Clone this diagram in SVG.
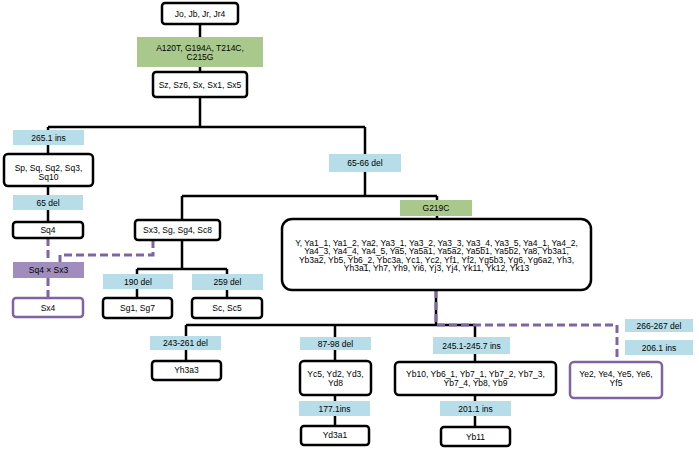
<svg xmlns="http://www.w3.org/2000/svg" width="699" height="450" viewBox="0 0 699 450">
<style>
text{font-family:"Liberation Sans",Arial,sans-serif;font-size:8.5px;text-anchor:middle;fill:#000}
.n{fill:#fff;stroke:#000;stroke-width:2.5}
.p{fill:#fff;stroke:#8064a2;stroke-width:2.5}
.b{fill:#b7dde8}
.g{fill:#a9c98c}
.v{fill:#a08dbd}
.c{fill:none;stroke:#000;stroke-width:2.5}
.d{fill:none;stroke:#8064a2;stroke-width:3;stroke-dasharray:8 4}
</style>
<rect width="699" height="450" fill="#fff"/>
<g id="connectors">
<path class="c" d="M200,24V37M200,67V72M200,97V127M48,127H365M48,127V130M48,145V154M48,186V195M48,210V222M365,127V154M365,172V196M182,196H437M182,196V220M182,240V269M437,196V200M437,216V219M137,269H227M137,269V274M137,289V298M227,269V274M227,290V298M436,290V325M186,325H475M186,325V336M186,350V361M335,325V337M335,350V361M335,395V401M335,416V426M475,325V337M475,354V362M475,395V401M475,416V427"/>
<path class="d" d="M48,238V262M48,278V298M153,240V255H60V262M436,290V325H617V362"/>
</g>
<g id="n_jo"><rect class="n" x="162" y="3" width="76" height="21" rx="3"/><text x="200" y="16.5">Jo, Jb, Jr, Jr4</text></g>
<g id="m_a120t"><rect class="g" x="137" y="37" width="126" height="30"/><text x="200" y="50.5">A120T, G194A, T214C,</text><text x="200" y="60">C215G</text></g>
<g id="n_sz"><rect class="n" x="153" y="72" width="94" height="25" rx="3"/><text x="200" y="87.5">Sz, Sz6, Sx, Sx1, Sx5</text></g>
<g id="m_2651"><rect class="b" x="13" y="130" width="71" height="15"/><text x="48.5" y="140.5">265.1 ins</text></g>
<g id="n_sp"><rect class="n" x="4" y="154" width="89" height="32" rx="4"/><text x="48.5" y="170.5">Sp, Sq, Sq2, Sq3,</text><text x="48.5" y="179.5">Sq10</text></g>
<g id="m_65"><rect class="b" x="13" y="195" width="70" height="15"/><text x="48" y="205.5">65 del</text></g>
<g id="n_sq4"><rect class="n" x="13" y="222" width="70" height="16" rx="3"/><text x="48" y="233">Sq4</text></g>
<g id="m_cross"><rect class="v" x="13" y="262" width="71" height="16"/><text x="48.5" y="273">Sq4 × Sx3</text></g>
<g id="n_sx4"><rect class="p" x="13" y="298" width="70" height="19" rx="3"/><text x="48" y="310.5">Sx4</text></g>
<g id="m_6566"><rect class="b" x="329" y="154" width="72" height="18"/><text x="365" y="166">65-66 del</text></g>
<g id="n_sx3"><rect class="n" x="135" y="220" width="85" height="20" rx="3"/><text x="177.5" y="233">Sx3, Sg, Sg4, Sc8</text></g>
<g id="m_190"><rect class="b" x="103" y="274" width="70" height="15"/><text x="138" y="284.5">190 del</text></g>
<g id="n_sg1"><rect class="n" x="103" y="298" width="69" height="20" rx="3"/><text x="137.5" y="311">Sg1, Sg7</text></g>
<g id="m_259"><rect class="b" x="192" y="274" width="71" height="16"/><text x="227.5" y="285">259 del</text></g>
<g id="n_sc"><rect class="n" x="192" y="298" width="70" height="20" rx="3"/><text x="227" y="311">Sc, Sc5</text></g>
<g id="m_g219c"><rect class="g" x="400" y="200" width="72" height="16"/><text x="436" y="211">G219C</text></g>
<g id="n_y"><rect class="n" x="282" y="219" width="309" height="71" rx="10"/>
<text x="436.5" y="245.5">Y, Ya1_1, Ya1_2, Ya2, Ya3_1, Ya3_2, Ya3_3, Ya3_4, Ya3_5, Ya4_1, Ya4_2,</text>
<text x="436.5" y="254">Ya4_3, Ya4_4, Ya4_5, Ya5, Ya5a1, Ya5a2, Ya5b1, Ya5b2, Ya8, Yb3a1,</text>
<text x="436.5" y="262.5">Yb3a2, Yb5, Yb6_2, Ybc3a, Yc1, Yc2, Yf1, Yf2, Yg5b3, Yg6, Yg6a2, Yh3,</text>
<text x="436.5" y="271">Yh3a1, Yh7, Yh9, Yi6, Yj3, Yj4, Yk11, Yk12, Yk13</text></g>
<g id="m_243"><rect class="b" x="150" y="336" width="71" height="14"/><text x="185.5" y="346">243-261 del</text></g>
<g id="n_yh3a3"><rect class="n" x="152" y="361" width="69" height="19" rx="3"/><text x="186.5" y="373">Yh3a3</text></g>
<g id="m_87"><rect class="b" x="300" y="337" width="71" height="13"/><text x="335.5" y="346.5">87-98 del</text></g>
<g id="n_yc5"><rect class="n" x="300" y="361" width="71" height="34" rx="4"/><text x="335.5" y="377">Yc5, Yd2, Yd3,</text><text x="335.5" y="386">Yd8</text></g>
<g id="m_177"><rect class="b" x="299" y="401" width="71" height="15"/><text x="334.5" y="411.5">177.1ins</text></g>
<g id="n_yd3a1"><rect class="n" x="301" y="426" width="68" height="19" rx="3"/><text x="335" y="438">Yd3a1</text></g>
<g id="m_245"><rect class="b" x="433" y="337" width="77" height="17"/><text x="471.5" y="348.5">245.1-245.7 ins</text></g>
<g id="n_yb10"><rect class="n" x="395" y="362" width="161" height="33" rx="4"/><text x="475.5" y="377">Yb10, Yb6_1, Yb7_1, Yb7_2, Yb7_3,</text><text x="475.5" y="386">Yb7_4, Yb8, Yb9</text></g>
<g id="m_201"><rect class="b" x="440" y="401" width="71" height="15"/><text x="475.5" y="411.5">201.1 ins</text></g>
<g id="n_yb11"><rect class="n" x="441" y="427" width="69" height="19" rx="3"/><text x="475.5" y="439.5">Yb11</text></g>
<g id="m_266"><rect class="b" x="625" y="319" width="68" height="13"/><text x="659" y="328.5">266-267 del</text></g>
<g id="m_206"><rect class="b" x="625" y="340" width="68" height="15"/><text x="659" y="350.5">206.1 ins</text></g>
<g id="n_ye"><rect class="p" x="570" y="362" width="92" height="36" rx="4"/><text x="616" y="377">Ye2, Ye4, Ye5, Ye6,</text><text x="616" y="386">Yf5</text></g>
</svg>
